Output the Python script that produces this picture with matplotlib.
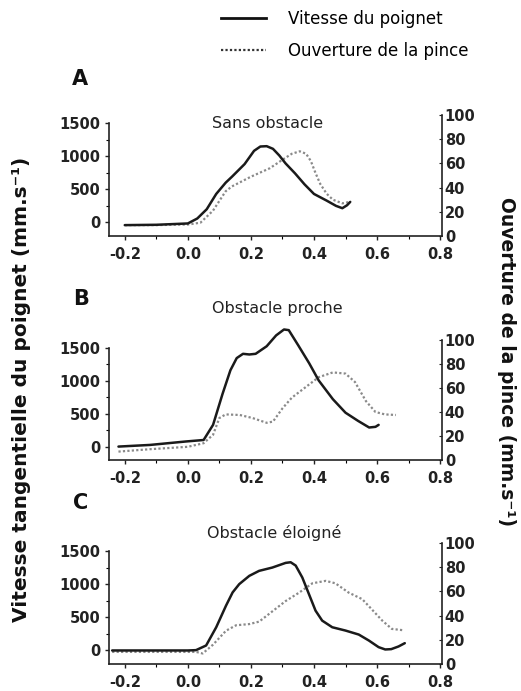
import matplotlib
matplotlib.use("Agg")
import matplotlib.pyplot as plt
from matplotlib.ticker import MultipleLocator, FixedLocator, FormatStrFormatter
from matplotlib.lines import Line2D

plt.rcParams['font.family'] = ['DejaVu Sans']
plt.rcParams['axes.unicode_minus'] = False

# ---------------- data ----------------
panel_letters = ["A", "B", "C"]
panel_titles = ["Sans obstacle", "Obstacle proche", "Obstacle éloigné"]
legend_labels = ["Vitesse du poignet", "Ouverture de la pince"]
left_label = "Vitesse tangentielle du poignet (mm.s⁻¹)"
right_label = "Ouverture de la pince (mm.s⁻¹)"

x_ticks = [-0.2, 0.0, 0.2, 0.4, 0.6, 0.8]
left_ticks = [0, 500, 1000, 1500]
right_ticks = [0, 20, 40, 60, 80, 100]

# Panel A
tA_speed = [-0.20, -0.10, 0.00, 0.03, 0.06, 0.09, 0.12, 0.14, 0.18, 0.21, 0.23, 0.25,
            0.27, 0.29, 0.31, 0.34, 0.37, 0.40, 0.44, 0.47, 0.49, 0.505, 0.515]
vA_speed = [-40, -35, -15, 60, 200, 430, 600, 690, 880, 1080, 1145, 1150,
            1110, 1010, 890, 740, 575, 430, 330, 250, 215, 260, 310]
tA_grip = [-0.20, -0.10, 0.00, 0.04, 0.08, 0.10, 0.12, 0.14, 0.20, 0.26, 0.30, 0.33,
           0.355, 0.375, 0.39, 0.405, 0.42, 0.44, 0.46, 0.49, 0.51]
vA_grip = [9, 9, 9.5, 11, 21, 29, 37, 41, 49, 56, 63, 68,
           70, 68, 62, 52, 43, 35, 30, 27, 28]

# Panel B
tB_speed = [-0.22, -0.12, -0.005, 0.05, 0.08, 0.11, 0.135, 0.155, 0.175, 0.195, 0.215,
            0.25, 0.28, 0.305, 0.32, 0.35, 0.385, 0.415, 0.46, 0.50, 0.54, 0.575, 0.595, 0.605]
vB_speed = [0, 25, 78, 100, 330, 800, 1160, 1345, 1410, 1400, 1410,
            1525, 1690, 1780, 1770, 1540, 1265, 1005, 720, 515, 390, 290, 300, 330]
tB_grip = [-0.22, -0.12, 0.0, 0.05, 0.08, 0.10, 0.12, 0.165, 0.205, 0.25, 0.27, 0.30,
           0.33, 0.375, 0.415, 0.46, 0.50, 0.53, 0.565, 0.595, 0.625, 0.66]
vB_grip = [7, 9, 11, 14, 21, 35, 38, 37.5, 35, 31, 32, 43,
           52, 61, 69, 73, 72, 65, 49, 40, 38, 37.5]

# Panel C
tC_speed = [-0.24, -0.10, 0.0, 0.026, 0.058, 0.09, 0.121, 0.142, 0.163, 0.195, 0.226,
            0.268, 0.31, 0.326, 0.342, 0.363, 0.384, 0.405, 0.426, 0.458, 0.50, 0.542,
            0.574, 0.605, 0.626, 0.645, 0.668, 0.688]
vC_speed = [0, 0, 0, 5, 75, 350, 675, 875, 1000, 1125, 1200,
            1250, 1320, 1330, 1280, 1100, 850, 600, 450, 350, 300, 240,
            150, 50, 15, 20, 60, 110]
tC_grip = [-0.24, -0.10, 0.0, 0.026, 0.047, 0.08, 0.121, 0.153, 0.195, 0.226, 0.268,
           0.31, 0.353, 0.395, 0.437, 0.468, 0.51, 0.553, 0.584, 0.616, 0.647, 0.68]
vC_grip = [10, 10, 10, 10, 8.7, 16, 27.5, 32, 33, 35, 43.5,
           52, 59, 66.7, 68.7, 66.7, 59, 53.6, 45, 36, 29, 28]

speeds = [(tA_speed, vA_speed), (tB_speed, vB_speed), (tC_speed, vC_speed)]
grips = [(tA_grip, vA_grip), (tB_grip, vB_grip), (tC_grip, vC_grip)]

# ---------------- layout (pixels) ----------------
W, H = 521, 691
fig = plt.figure(figsize=(W / 100, H / 100), dpi=100)

def fx(px):
    return px / W

def fy(py):
    return 1 - py / H

ax_left_px, ax_right_px = 109, 442
panel_top_bottom = [(115, 236), (340, 460), (543, 664)]
title_pos = [(268, 124), (277, 309), (274, 533)]
letter_pos = [(80, 79), (81, 299), (81, 503)]

speed_color = '#1a1a1a'
grip_color = '#8a8a8a'

for i in range(3):
    top, bot = panel_top_bottom[i]
    ax = fig.add_axes([fx(ax_left_px), fy(bot), fx(ax_right_px - ax_left_px), (bot - top) / H])
    ax2 = ax.twinx()
    ax.set_xlim(-0.25, 0.806)
    ax.set_ylim(-204, 1620)
    ax2.set_ylim(0, 100)

    ax.plot(speeds[i][0], speeds[i][1], color=speed_color, lw=1.8, clip_on=False,
            solid_joinstyle='round', solid_capstyle='round')
    ax2.plot(grips[i][0], grips[i][1], color=grip_color, lw=1.6,
             linestyle=(0, (1, 1)), clip_on=False)
    ax.set_zorder(ax2.get_zorder() + 1)
    ax.patch.set_visible(False)

    for a in (ax, ax2):
        a.spines['top'].set_visible(False)
        for s in a.spines.values():
            s.set_linewidth(1.2)
            s.set_color('#222222')
    ax.spines['right'].set_visible(False)
    ax2.spines['left'].set_visible(False)
    ax2.spines['bottom'].set_visible(False)
    ax.spines['left'].set_bounds(-204, 1500)

    ax.xaxis.set_major_locator(FixedLocator(x_ticks))
    ax.xaxis.set_minor_locator(MultipleLocator(0.1))
    ax.xaxis.set_major_formatter(FormatStrFormatter('%.1f'))
    ax.yaxis.set_major_locator(FixedLocator(left_ticks))
    ax.yaxis.set_minor_locator(FixedLocator([250, 750, 1250]))
    ax2.yaxis.set_major_locator(FixedLocator(right_ticks))

    ax.tick_params(axis='x', which='major', direction='out', length=3, width=1, pad=5,
                   labelsize=10.5, colors='#222222')
    ax.tick_params(axis='x', which='minor', direction='out', length=2, width=0.8)
    ax.tick_params(axis='y', which='major', direction='out', length=3, width=1, pad=3,
                   labelsize=10.5, colors='#222222')
    ax.tick_params(axis='y', which='minor', direction='out', length=2, width=0.8)
    ax2.tick_params(axis='y', which='major', direction='in', length=2, width=0.8, pad=2,
                    labelsize=10.5, colors='#222222')
    for lab in ax.get_xticklabels() + ax.get_yticklabels() + ax2.get_yticklabels():
        lab.set_fontweight('bold')

    fig.text(fx(title_pos[i][0]), fy(title_pos[i][1]), panel_titles[i],
             ha='center', va='center', fontsize=11.5, color='#222222')
    fig.text(fx(letter_pos[i][0]), fy(letter_pos[i][1]), panel_letters[i],
             ha='center', va='center', fontsize=15, fontweight='bold', color='#111111')

# legend
leg_handles = [Line2D([], [], color='#111111', lw=2),
               Line2D([], [], color='#333333', lw=1.6, linestyle=(0, (1, 1)))]
fig.legend(leg_handles, legend_labels, loc='upper left',
           bbox_to_anchor=(fx(221), fy(10)), frameon=False, fontsize=12,
           handlelength=2.7, handletextpad=1.3, labelspacing=0.85,
           borderpad=0, borderaxespad=0)

# axis labels
fig.text(fx(22), fy(389), left_label, rotation=90, ha='center', va='center',
         fontsize=14.5, fontweight='bold', color='#111111')
fig.text(fx(506), fy(362), right_label, rotation=270, ha='center', va='center',
         fontsize=13.5, fontweight='bold', color='#111111')

fig.savefig("out.png", dpi=100, facecolor='white')
